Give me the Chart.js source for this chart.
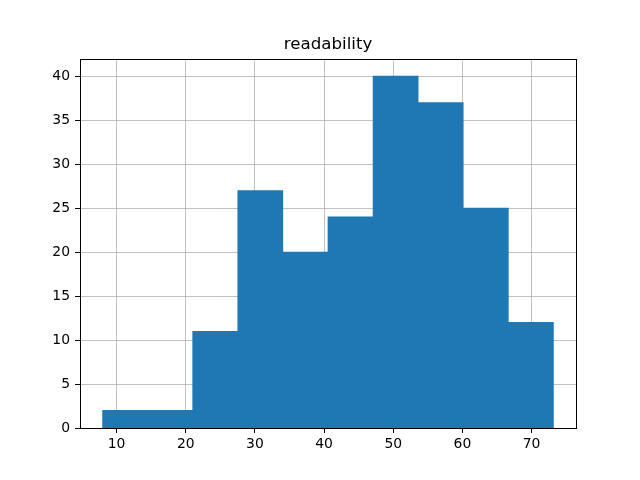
<!DOCTYPE html>
<html>
<head>
<meta charset="utf-8">
<script src="https://cdn.jsdelivr.net/npm/chart.js@4"></script>
<style>
    html, body { margin: 0; padding: 0; background: #fff; }
    #wrap { width: 640px; height: 480px; }
</style>
</head>
<body>
<div id="wrap"><canvas id="myChart" width="640" height="480"></canvas></div>
<script>
"use strict";

const title = "readability";
const binEdges = [7.97, 14.49, 21.0, 27.52, 34.04, 40.56, 47.08, 53.6, 60.12, 66.64, 73.16];
const counts = [2, 2, 11, 27, 20, 24, 40, 37, 25, 12];
const xTicks = [10, 20, 30, 40, 50, 60, 70];
const yTicks = [0, 5, 10, 15, 20, 25, 30, 35, 40];

const ctx = document.getElementById("myChart");

// bar centres, one per bin
const points = counts.map((c, i) => ({ x: (binEdges[i] + binEdges[i + 1]) / 2, y: c }));

const frame = {
    id: "frame",
    afterDraw(chart) {
        const a = chart.chartArea;
        const c = chart.ctx;
        c.save();
        c.strokeStyle = "#000";
        c.lineWidth = 1;
        c.strokeRect(Math.round(a.left) + 0.5, Math.round(a.top) + 0.5,
            Math.round(a.right - a.left), Math.round(a.bottom - a.top));
        c.restore();
    }
};

const tickFont = { family: "DejaVu Sans", size: 13.9 };

new Chart(ctx, {
    type: "bar",
    data: {
        datasets: [
            {
                label: title,
                data: points,
                backgroundColor: "#1f77b4",
                borderWidth: 0,
                barPercentage: 1,
                categoryPercentage: 1
            }
        ]
    },
    options: {
        responsive: false,
        animation: false,
        layout: { padding: { left: 0, right: 64, top: 0, bottom: 0 } },
        plugins: {
            legend: { display: false },
            tooltip: { enabled: false },
            title: {
                display: true,
                fullSize: false, // centre over the axes, not the canvas
                text: title,
                color: "#000",
                font: { family: "DejaVu Sans", size: 16.67, weight: "normal" },
                padding: { top: 35, bottom: 4 }
            }
        },
        scales: {
            x: {
                type: "linear",
                offset: false,
                min: 4.71,
                max: 76.42,
                z: 1,
                afterBuildTicks: (scale) => { scale.ticks = xTicks.map(v => ({ value: v })); },
                afterFit: (scale) => { scale.height = 52; },
                grid: { offset: false, color: "#b0b0b0", lineWidth: 0.8, tickColor: "#000", tickLength: 5, tickWidth: 1 },
                border: { display: false },
                ticks: { color: "#000", font: tickFont, padding: 3, maxRotation: 0 }
            },
            y: {
                type: "linear",
                min: 0,
                max: 41.95,
                z: 1,
                afterBuildTicks: (scale) => { scale.ticks = yTicks.map(v => ({ value: v })); },
                afterFit: (scale) => { scale.width = 80; },
                grid: { color: "#b0b0b0", lineWidth: 0.8, tickColor: "#000", tickLength: 5, tickWidth: 1 },
                border: { display: false },
                ticks: { color: "#000", font: tickFont, padding: 5 }
            }
        }
    },
    plugins: [frame]
});
</script>
</body>
</html>
